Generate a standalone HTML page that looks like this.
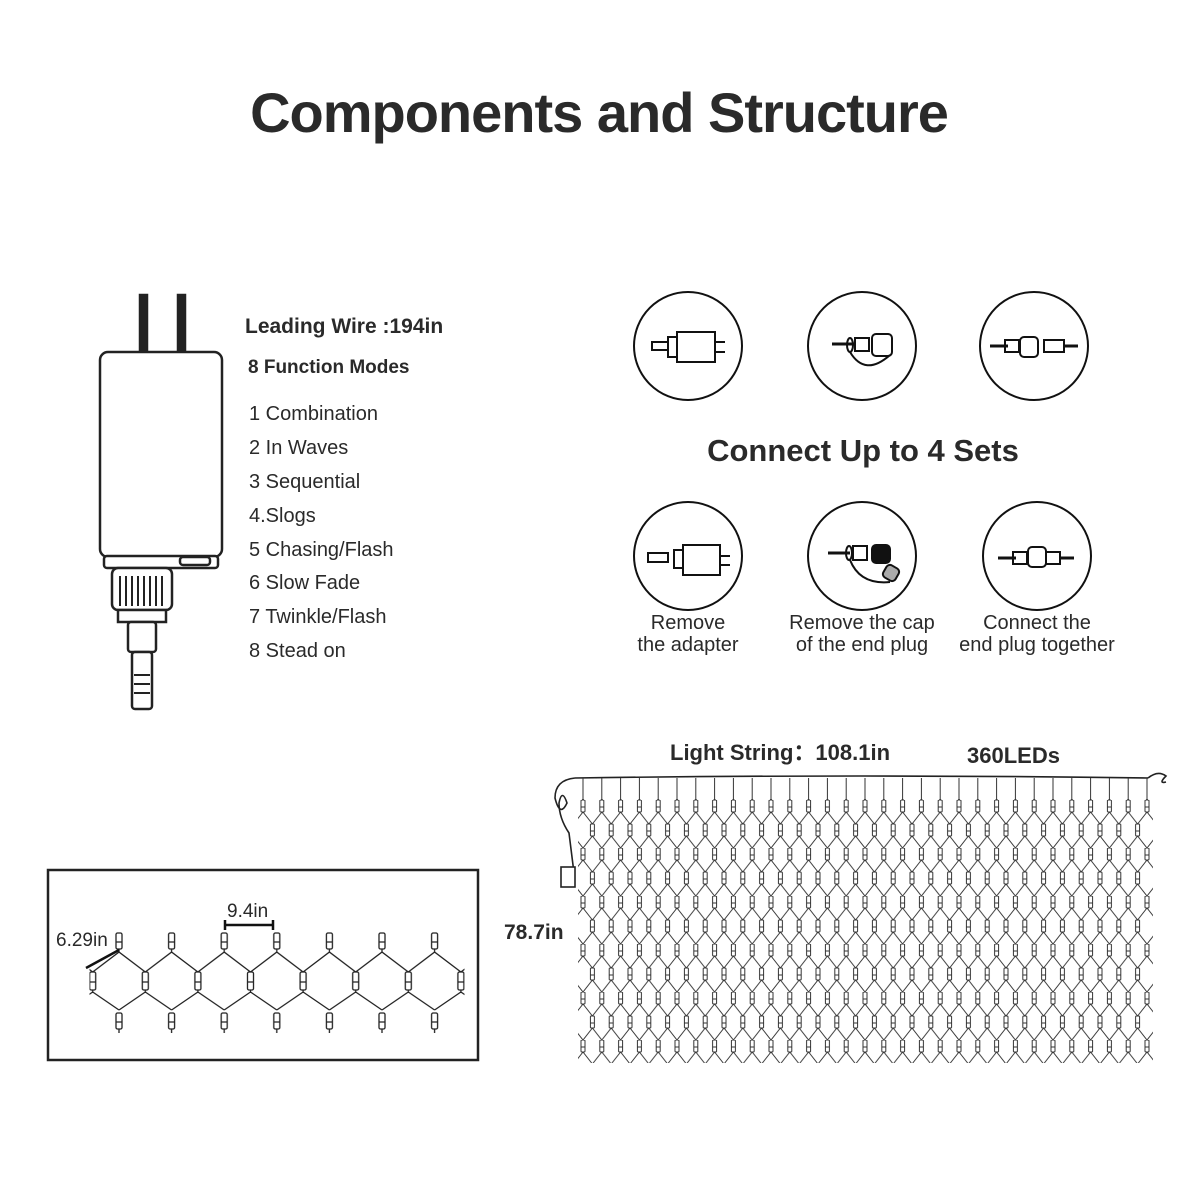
<!DOCTYPE html>
<html><head><meta charset="utf-8"><style>
body{margin:0;background:#fff;}
svg{display:block;}
text{font-family:"Liberation Sans",sans-serif;fill:#2a2a2a;}
</style></head><body>
<svg width="1200" height="1200" viewBox="0 0 1200 1200" xmlns="http://www.w3.org/2000/svg">
<defs>
<pattern id="netp" patternUnits="userSpaceOnUse" x="583" y="800" width="18.8" height="48">
<g stroke="#333" stroke-width="1" fill="none">
<path d="M0 0v12M18.8 0v12M0 12L9.4 24M18.8 12L9.4 24M0 12L-9.4 24M18.8 12L28.2 24M9.4 24v12M9.4 36L0 48M9.4 36L18.8 48"/>
</g>
<g stroke="#333" stroke-width="1" fill="#fff">
<rect x="-2" y="0" width="4" height="12" rx="1"/><rect x="16.8" y="0" width="4" height="12" rx="1"/>
<rect x="7.4" y="24" width="4" height="12" rx="1"/>
<path d="M-2 7h4M16.8 7h4M7.4 31h4"/>
</g>
</pattern>
<pattern id="topp" patternUnits="userSpaceOnUse" x="583" y="0" width="18.8" height="1200">
<path d="M0 778v22M18.8 778v22" stroke="#333" stroke-width="1"/>
</pattern>
<pattern id="smallp" patternUnits="userSpaceOnUse" x="119" y="0" width="52.6" height="1200">
<g stroke="#222" stroke-width="1.3" fill="none">
<path d="M0 952L26.3 972M52.6 952L26.3 972M26.3 992L0 1010M26.3 992L52.6 1010M0 949v3M52.6 949v3M26.3 990v3M0 1029v4M52.6 1029v4"/>
</g>
<g stroke="#222" stroke-width="1.3" fill="#fff">
<rect x="-3" y="933" width="6" height="16" rx="1.5"/><rect x="49.6" y="933" width="6" height="16" rx="1.5"/>
<rect x="23.3" y="972" width="6" height="18" rx="1.5"/>
<rect x="-3" y="1013" width="6" height="16" rx="1.5"/><rect x="49.6" y="1013" width="6" height="16" rx="1.5"/>
<path d="M-3 942h6M49.6 942h6M23.3 982h6M-3 1022h6M49.6 1022h6"/>
</g>
</pattern>
</defs>
<text x="599" y="132" font-size="56" font-weight="bold" text-anchor="middle" letter-spacing="-1">Components and Structure</text>
<g stroke="#222" stroke-width="2.5" fill="#fff">
<rect x="140" y="295" width="7" height="58" fill="#222"/>
<rect x="178" y="295" width="7" height="58" fill="#222"/>
<rect x="100" y="352" width="122" height="205" rx="8"/>
<rect x="104" y="556" width="114" height="12" rx="3"/>
<rect x="180" y="557" width="30" height="8" rx="3"/>
<rect x="112" y="568" width="60" height="42" rx="6"/>
<rect x="118" y="610" width="48" height="12"/>
<rect x="128" y="622" width="28" height="30" rx="3"/>
<rect x="132" y="652" width="20" height="57" rx="3"/>
<path d="M120 576v30M126 576v30M132 576v30M138 576v30M144 576v30M150 576v30M156 576v30M162 576v30" stroke-width="2"/>
<path d="M134 675h16M134 684h16M134 693h16" stroke-width="2"/>
</g>
<text x="245" y="333" font-size="21" font-weight="bold">Leading Wire :194in</text>
<text x="248" y="373" font-size="19" font-weight="bold">8 Function Modes</text>
<g font-size="20">
<text x="249" y="420">1 Combination</text>
<text x="249" y="454">2 In Waves</text>
<text x="249" y="488">3 Sequential</text>
<text x="249" y="522">4.Slogs</text>
<text x="249" y="556">5 Chasing/Flash</text>
<text x="249" y="589">6 Slow Fade</text>
<text x="249" y="623">7 Twinkle/Flash</text>
<text x="249" y="657">8 Stead on</text>
</g>
<g stroke="#111" stroke-width="2" fill="none">
<circle cx="688" cy="346" r="54"/><circle cx="862" cy="346" r="54"/><circle cx="1034" cy="346" r="54"/>
<circle cx="688" cy="556" r="54"/><circle cx="862" cy="556" r="54"/><circle cx="1037" cy="556" r="54"/>
<rect x="677" y="332" width="38" height="30"/><path d="M715 342h10M715 352h10"/><rect x="668" y="337" width="9" height="20"/><rect x="652" y="342" width="16" height="8"/>
<path d="M832 344h22" stroke-width="3"/><ellipse cx="850" cy="345" rx="3" ry="7"/><rect x="855" y="338" width="14" height="13"/><rect x="872" y="334" width="20" height="22" rx="4"/><path d="M850 352q15 25 40 3"/>
<path d="M990 346h18" stroke-width="3"/><rect x="1005" y="340" width="14" height="12"/><rect x="1020" y="337" width="18" height="20" rx="4"/><rect x="1044" y="340" width="20" height="12"/><path d="M1064 346h14" stroke-width="3"/>
<rect x="683" y="545" width="37" height="30"/><path d="M720 556h10M720 565h10"/><rect x="674" y="550" width="9" height="18"/><rect x="648" y="553" width="20" height="9"/>
<path d="M828 553h22" stroke-width="3"/><ellipse cx="849" cy="553" rx="3" ry="7"/><rect x="853" y="546" width="14" height="14"/><rect x="872" y="545" width="18" height="18" rx="4" fill="#111"/><path d="M850 560q10 25 40 22"/><rect x="884" y="566" width="14" height="14" rx="4" transform="rotate(30 891 573)" fill="#aaa"/>
<path d="M998 558h18" stroke-width="3"/><rect x="1013" y="552" width="14" height="12"/><rect x="1028" y="547" width="18" height="20" rx="4"/><rect x="1046" y="552" width="14" height="12"/><path d="M1060 558h14" stroke-width="3"/>
</g>
<text x="863" y="461" font-size="31" font-weight="bold" text-anchor="middle">Connect Up to 4 Sets</text>
<g font-size="20" text-anchor="middle">
<text x="688" y="629">Remove</text><text x="688" y="651">the adapter</text>
<text x="862" y="629">Remove the cap</text><text x="862" y="651">of the end plug</text>
<text x="1037" y="629">Connect the</text><text x="1037" y="651">end plug together</text>
</g>
<text x="670" y="760" font-size="22" font-weight="bold">Light String：108.1in</text>
<text x="967" y="763" font-size="22" font-weight="bold">360LEDs</text>
<text x="504" y="939" font-size="21" font-weight="bold">78.7in</text>
<rect x="48" y="870" width="430" height="190" fill="none" stroke="#222" stroke-width="2.5"/>
<rect x="89.5" y="928" width="375" height="110" fill="url(#smallp)"/>
<text x="227" y="917" font-size="19">9.4in</text>
<path d="M225 925h48M225 920v10M273 920v10" stroke="#111" stroke-width="2.5"/>
<text x="56" y="946" font-size="19">6.29in</text>
<path d="M86 968l33-18" stroke="#111" stroke-width="2.5"/>
<path d="M575 778 Q860 774 1148 778" stroke="#222" stroke-width="1.6" fill="none"/>
<rect x="582" y="778" width="567" height="24" fill="url(#topp)"/>
<rect x="578" y="799" width="575" height="264" fill="url(#netp)"/>
<g stroke="#222" stroke-width="1.6" fill="none">
<path d="M575 778q-20 2-20 20q5 20 12 5q-5-15-8 0q0 15 10 30l5 40"/>
<rect x="561" y="867" width="14" height="20" fill="#fff"/>
<path d="M1148 778q10-8 18-2q-8 8 0 6"/>
</g>
</svg>
</body></html>
